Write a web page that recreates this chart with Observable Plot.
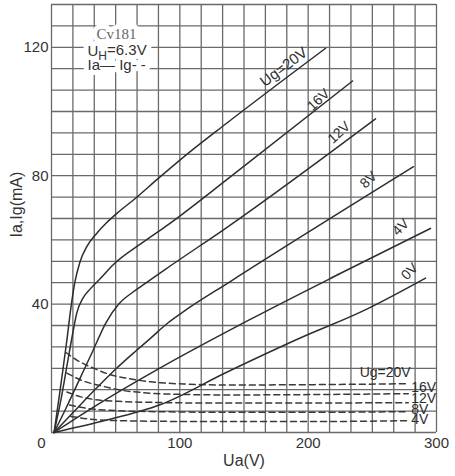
<!DOCTYPE html>
<html>
<head>
<meta charset="utf-8">
<script src="https://cdn.jsdelivr.net/npm/d3@7"></script>
<script src="https://cdn.jsdelivr.net/npm/@observablehq/plot@0.6"></script>
<style>
  html, body { margin: 0; padding: 0; background: #fff; }
  #chart svg { display: block; }
</style>
</head>
<body>
<div id="chart"></div>
<script>
// ---------- data ----------
// Anode current Ia (mA) vs anode voltage Ua (V), one pair of arrays per grid voltage Ug
const ua_g20 = [2, 7.2, 11.9, 15.0, 18.1, 22.0, 27.5, 34.5, 42.3, 51.6, 64.1, 82.8, 106.9, 135.7, 213.6];
const ia_g20 = [0, 14.6, 28.5, 38.5, 46.6, 52.9, 57.9, 61.7, 65.1, 68.5, 72.5, 79.0, 87.1, 96.1, 119.7];
const ua_g16 = [2, 7.2, 12.7, 16.6, 19.7, 24.4, 30.6, 38.4, 47.7, 71.1, 89.0, 139.6, 234.6];
const ia_g16 = [0, 9.9, 22.3, 31.0, 37.2, 41.8, 44.9, 48.1, 52.1, 59.2, 64.2, 79.7, 109.5];
const ua_g12 = [2, 11.1, 21.3, 32.2, 42.3, 52.4, 63.3, 73.4, 89.0, 135.7, 252.5];
const ia_g12 = [0, 7.4, 16.1, 25.4, 34.1, 40.0, 43.7, 46.5, 50.9, 63.6, 97.7];
const ua_g8  = [2, 18.9, 34.5, 50.1, 65.7, 77.3, 90.6, 102.3, 139.6, 282.1];
const ia_g8  = [0, 7.1, 13.6, 19.8, 25.4, 29.4, 34.1, 37.5, 47.1, 82.8];
const ua_g4  = [2, 38.4, 85.1, 155.2, 225.3, 295.4];
const ia_g4  = [0, 9.3, 20.2, 35.3, 49.6, 63.6];
const ua_g0  = [2, 38.4, 85.1, 135.7, 194.2, 242.4, 291.5];
const ia_g0  = [0, 3.4, 8.7, 18.6, 29.5, 37.8, 48.1];

// Grid current Ig (mA) vs Ua (V)
const igUa_g20 = [11, 20, 33, 46, 60, 77, 103, 140, 200, 278];
const ig_g20   = [25, 22.5, 20, 18, 16.8, 15.8, 15.1, 14.8, 14.9, 15.2];
const igUa_g16 = [12, 25, 38, 54, 72, 98, 140, 200, 278];
const ig_g16   = [18.5, 16, 14.6, 13.2, 12.4, 11.9, 11.7, 11.8, 12.1];
const igUa_g12 = [12, 23, 33, 52, 77, 120, 200, 278];
const ig_g12   = [12.6, 11.1, 10.3, 9.7, 9.4, 9.2, 9.2, 9.3];
const igUa_g8  = [14, 28, 46, 80, 140, 200, 278];
const ig_g8    = [8.6, 7.5, 6.9, 6.5, 6.3, 6.3, 6.5];
const igUa_g4  = [15, 38, 80, 140, 200, 278];
const ig_g4    = [5.0, 3.9, 3.5, 3.4, 3.4, 3.7];

// Labels and ticks
const iaLabels = ["Ug=20V", "16V", "12V", "8V", "4V", "0V"];
const igLabels = ["Ug=20V", "16V", "12V", "8V", "4V"];
const xTicks = [0, 100, 200, 300];
const yTicks = [40, 80, 120];
const xTitle = "Ua(V)";
const yTitle = "Ia,Ig(mA)";
const note = ["Cv181", "UH=6.3V", "Ia\u2014 Ig- -"];

// ---------- build tables ----------
const iaSeries = [
  {ug: 20, ua: ua_g20, v: ia_g20}, {ug: 16, ua: ua_g16, v: ia_g16},
  {ug: 12, ua: ua_g12, v: ia_g12}, {ug: 8, ua: ua_g8, v: ia_g8},
  {ug: 4, ua: ua_g4, v: ia_g4}, {ug: 0, ua: ua_g0, v: ia_g0}
];
const igSeries = [
  {ug: 20, ua: igUa_g20, v: ig_g20}, {ug: 16, ua: igUa_g16, v: ig_g16},
  {ug: 12, ua: igUa_g12, v: ig_g12}, {ug: 8, ua: igUa_g8, v: ig_g8},
  {ug: 4, ua: igUa_g4, v: ig_g4}
];
const rows = s => s.flatMap(d => d.ua.map((u, i) => ({ug: d.ug, ua: u, v: d.v[i]})));
const iaRows = rows(iaSeries);
const igRows = rows(igSeries);

// position on a curve at a given Ua (for label anchoring only)
function onCurve(s, x) {
  const xs = s.ua, ys = s.v;
  if (x <= xs[0]) return ys[0];
  for (let i = 1; i < xs.length; i++) {
    if (x <= xs[i]) return ys[i-1] + (ys[i] - ys[i-1]) * (x - xs[i-1]) / (xs[i] - xs[i-1]);
  }
  return ys[ys.length - 1];
}

// graph paper: 18 x 20 cells
const xGrid = d3.range(0, 19).map(i => i * 300 / 18);
const yGrid = d3.range(0, 21).map(i => i * 20 / 3);

const ink = "#2e2e2e";
const sans = "'Liberation Sans', Arial, Helvetica, sans-serif";
const serif = "'Liberation Serif', 'Times New Roman', serif";

// label placement (styling, not data)
const iaPlace = [
  {at: 181, dy: -13, rotate: -37, size: 15},
  {at: 208, dy: -8,  rotate: -43, size: 14},
  {at: 224, dy: -13, rotate: -43, size: 14},
  {at: 247, dy: -15, rotate: -43, size: 14},
  {at: 272, dy: -16, rotate: -45, size: 14},
  {at: 279, dy: -15, rotate: -45, size: 14}
];
const igPlace = [
  {dx: 0, dy: -11, anchor: "middle"},
  {dx: 3, dy: -6, anchor: "start"},
  {dx: 3, dy: -4, anchor: "start"},
  {dx: 3, dy: -2, anchor: "start"},
  {dx: 3, dy: -1, anchor: "start"}
];
const notePlace = [
  {dx: 65, dy: 30, anchor: "middle", font: serif, size: 15, fill: "#666", spacing: "1.8px"},
  {dx: 36, dy: 47, anchor: "start", font: sans, size: 15, fill: "#333", spacing: "0.3px"},
  {dx: 36, dy: 61, anchor: "start", font: sans, size: 15, fill: "#333", spacing: "0.3px"}
];

const iaLabelMarks = iaLabels.map((t, i) => {
  const s = iaSeries[i], p = iaPlace[i];
  return Plot.text([{x: p.at, y: onCurve(s, p.at), t}], {
    x: "x", y: "y", text: "t", rotate: p.rotate, dy: p.dy,
    fontSize: p.size, fill: ink, fontFamily: sans, textAnchor: "middle", lineAnchor: "middle"
  });
});
const igLabelMarks = igLabels.map((t, i) => {
  const s = igSeries[i], p = igPlace[i];
  const xe = i === 0 ? 260 : s.ua[s.ua.length - 1];
  return Plot.text([{x: xe, y: onCurve(s, xe), t}], {
    x: "x", y: "y", text: "t", dx: p.dx, dy: p.dy,
    fontSize: 14, fill: ink, fontFamily: sans, textAnchor: p.anchor, lineAnchor: "middle"
  });
});
const noteMark = (i, halo) => {
  const p = notePlace[i];
  return Plot.text([note[i]], {
    frameAnchor: "top-left", dx: p.dx, dy: p.dy, textAnchor: p.anchor, lineAnchor: "middle",
    fontSize: p.size, fontFamily: p.font, letterSpacing: p.spacing,
    fill: halo ? "#fff" : p.fill,
    ...(halo ? {stroke: "#fff", strokeWidth: 10, strokeLinejoin: "round"} : {})
  });
};

const chart = Plot.plot({
  width: 455,
  height: 476,
  marginLeft: 51,
  marginRight: 19,
  marginTop: 4,
  marginBottom: 44,
  x: {domain: [0, 300], axis: null},
  y: {domain: [0, 400 / 3], axis: null},
  style: {background: "#fff", fontFamily: sans},
  marks: [
    Plot.ruleX(xGrid, {stroke: "#6a6a6a", strokeWidth: 1.3}),
    Plot.ruleY(yGrid, {stroke: "#6a6a6a", strokeWidth: 1.3}),
    Plot.line(igRows, {x: "ua", y: "v", z: "ug", stroke: "#3a3a3a", strokeWidth: 1.5,
      strokeDasharray: "6,4", curve: "monotone-x"}),
    Plot.line(iaRows, {x: "ua", y: "v", z: "ug", stroke: ink, strokeWidth: 1.5, curve: "monotone-x"}),
    ...iaLabelMarks,
    ...igLabelMarks,
    // tick labels
    Plot.text(xTicks.slice(1), {x: d => d, frameAnchor: "bottom", lineAnchor: "top", dy: 5,
      text: d => String(d), fontSize: 15, fill: "#333", fontFamily: sans}),
    Plot.text(xTicks.slice(0, 1), {x: d => d, frameAnchor: "bottom", lineAnchor: "top", dy: 5, dx: -10,
      text: d => String(d), fontSize: 15, fill: "#333", fontFamily: sans}),
    Plot.text(yTicks, {y: d => d, frameAnchor: "left", textAnchor: "end", lineAnchor: "middle", dx: -3,
      text: d => String(d), fontSize: 15, fill: "#333", fontFamily: sans}),
    // axis titles
    Plot.text([xTitle], {frameAnchor: "bottom", lineAnchor: "middle", dy: 28, fontSize: 16,
      fill: "#333", fontFamily: sans}),
    Plot.text([yTitle], {frameAnchor: "left", rotate: -90, lineAnchor: "middle", dx: -35, dy: 19,
      fontSize: 16, fill: "#333", fontFamily: sans}),
    // annotation block: white backing first, then the text
    noteMark(0, true), noteMark(1, true), noteMark(2, true),
    noteMark(0, false), noteMark(1, false), noteMark(2, false)
  ]
});

// subscript H in "UH=6.3V"
d3.select(chart).selectAll("text").filter(function() { return this.textContent === note[1]; })
  .each(function() {
    const t = d3.select(this);
    t.text(null);
    t.append("tspan").text("U");
    t.append("tspan").attr("dy", "0.3em").attr("font-size", "12px").text("H");
    t.append("tspan").attr("dy", "-0.3em").text("=6.3V");
  });

document.getElementById("chart").appendChild(chart);
</script>
</body>
</html>
